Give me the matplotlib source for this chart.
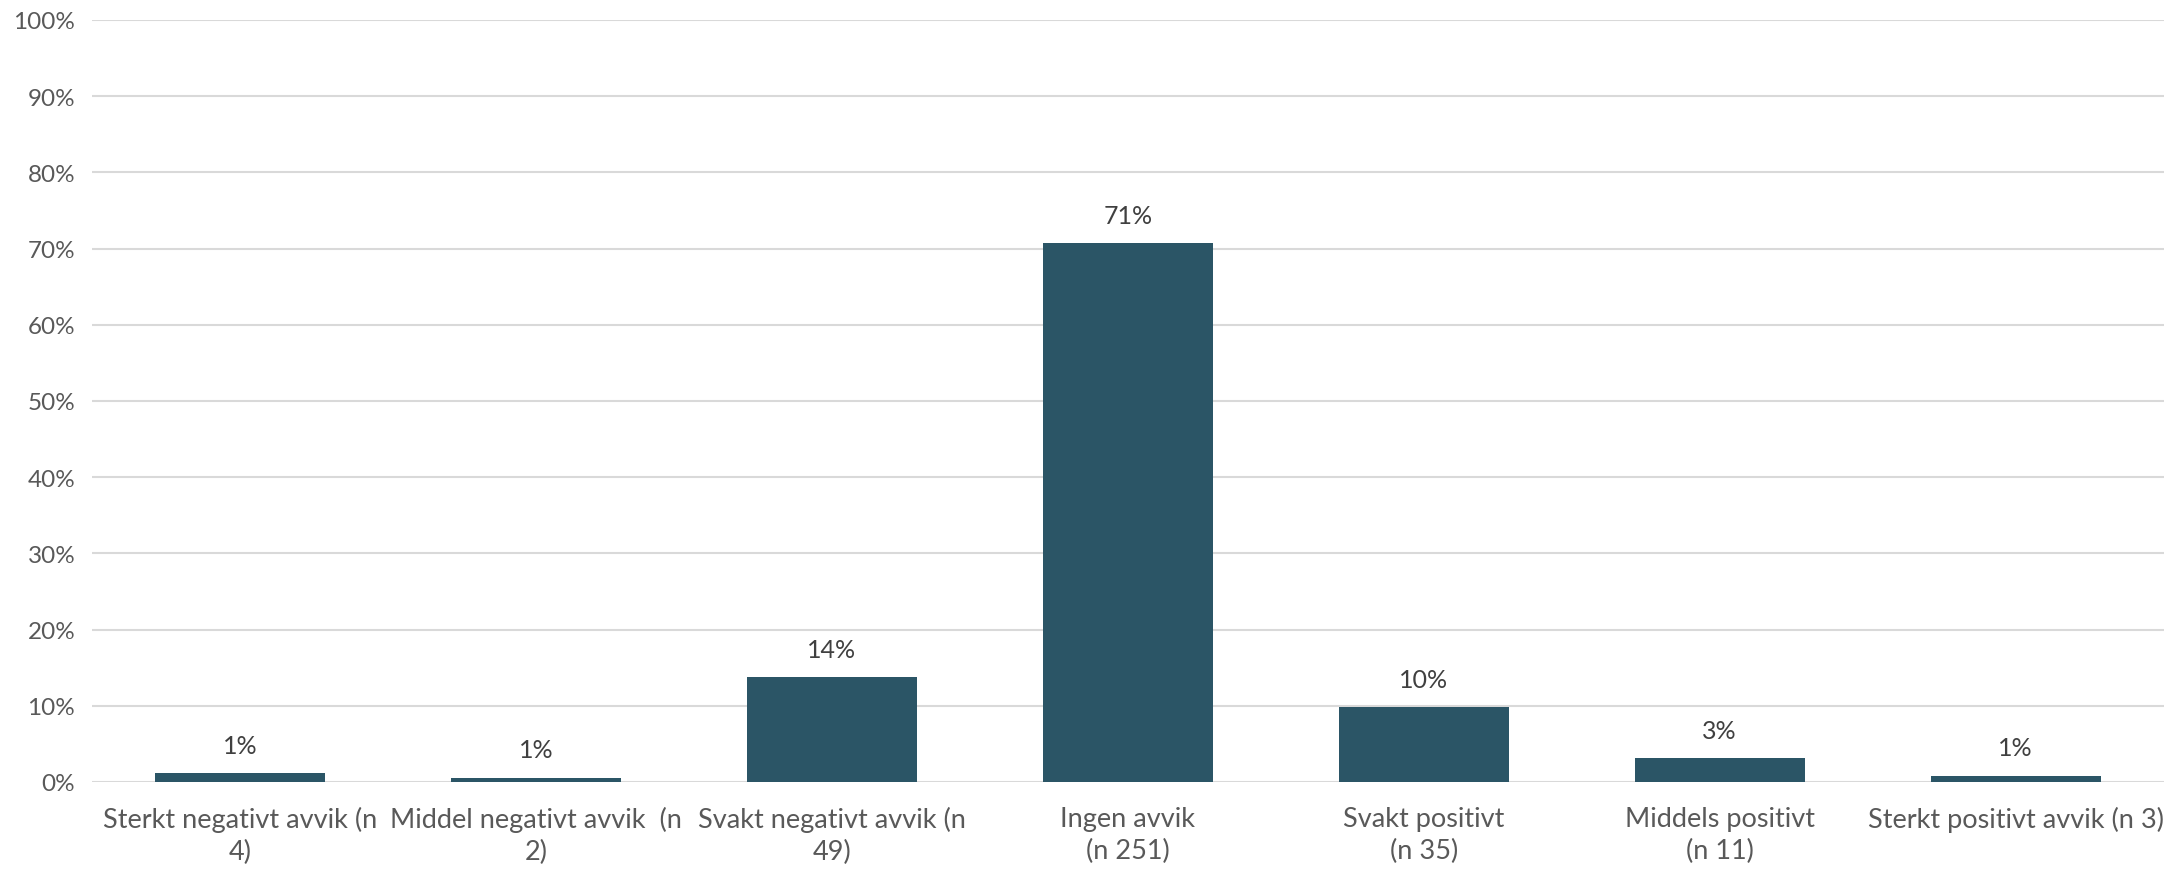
import matplotlib.pyplot as plt
from matplotlib.ticker import PercentFormatter

# Kategorier og andeler (i prosent)
kategorier = ['Sterkt negativt avvik (n\n4)', 'Middel negativt avvik  (n\n2)',
              'Svakt negativt avvik (n\n49)', 'Ingen avvik\n(n 251)',
              'Svakt positivt\n(n 35)', 'Middels positivt\n(n 11)',
              'Sterkt positivt avvik (n 3)']
andeler = [1.13, 0.56, 13.8, 70.7, 9.86, 3.1, 0.85]
etiketter = ['1%', '1%', '14%', '71%', '10%', '3%', '1%']

plt.rcParams['font.family'] = ['Lato', 'DejaVu Sans']

fig = plt.figure(figsize=(21.68, 8.7), dpi=100)
ax = fig.add_axes([0.0424, 0.1, 0.9556, 0.876])

x = range(len(kategorier))
bars = ax.bar(x, andeler, width=0.575, color='#2B5566', zorder=3)

# Dataetiketter over søylene
for b, tekst in zip(bars, etiketter):
    ax.annotate(tekst, (b.get_x() + b.get_width() / 2, b.get_height()),
                xytext=(0, 20), textcoords='offset points', ha='center', va='center',
                fontsize=18, color='#404040')

ax.set_xlim(-0.5, len(kategorier) - 0.5)
ax.set_ylim(0, 100)
ax.set_yticks(range(0, 101, 10))
ax.yaxis.set_major_formatter(PercentFormatter(decimals=0))
ax.grid(axis='y', color='#D9D9D9', linewidth=1.5, zorder=0)

ax.set_xticks(list(x))
ax.set_xticklabels(kategorier, fontsize=19.5, color='#595959', linespacing=1.35)
ax.tick_params(axis='x', length=0, pad=17)
ax.tick_params(axis='y', length=0, labelsize=17.5, labelcolor='#595959', pad=12)

for s in ax.spines.values():
    s.set_visible(False)

fig.savefig('out.png', dpi=100)
